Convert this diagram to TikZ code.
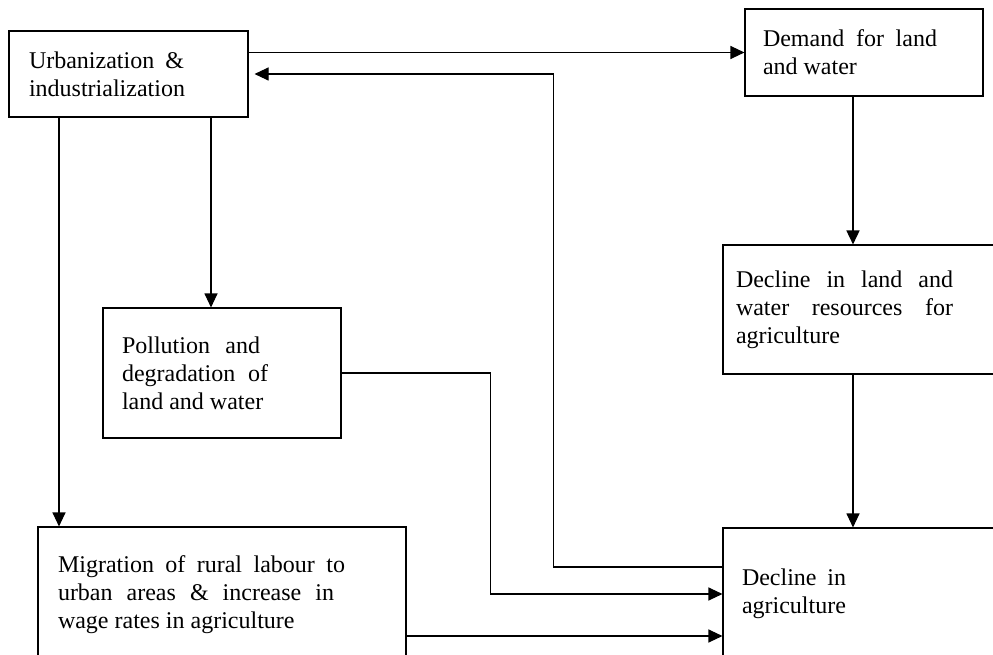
\documentclass[tikz,border=0pt]{standalone}
\usepackage{fontspec}
\setmainfont{Liberation Serif}
\usepackage{tikz}
\usetikzlibrary{positioning,calc,arrows.meta}

\begin{document}
\begin{tikzpicture}[
		x=1pt, y=-1pt,
		box/.style={
			draw=black, line width=1.1pt,
			inner xsep=20pt, inner ysep=0pt, align=justify,
			font=\fontsize{24}{28}\selectfont
		},
		link/.style={
			draw=black, line width=1.1pt,
			-{Triangle[length=14pt, width=13pt]}
		}
		]
		
		\useasboundingbox (0,0) rectangle (993,655);
		\clip (0,0) rectangle (993,655);
		
		% --- BOXES ---
		\node[box, text width=199pt, minimum height=86pt] (urb) at (128.5,74)
			{\makebox[155pt][s]{Urbanization \&}\\industrialization};
		\node[box, inner xsep=18pt, text width=202pt, minimum height=87pt] (demand) at (864,52.5)
			{\makebox[174pt][s]{Demand for land}\\and water};
		\node[box, inner xsep=13pt, text width=261pt, minimum height=129pt] (declw) at (866.5,309.5)
			{\makebox[217pt][s]{Decline in land and}\\\makebox[217pt][s]{water resources for}\\agriculture};
		\node[box, inner xsep=19pt, text width=200pt, minimum height=130pt] (poll) at (222,373)
			{\makebox[138pt][s]{Pollution and}\\\makebox[146pt][s]{degradation of}\\land and water};
		\node[box, text width=328pt, minimum height=136pt] (migr) at (222,595)
			{\makebox[287pt][s]{Migration of rural labour to}\\\makebox[276pt][s]{urban areas \& increase in}\\wage rates in agriculture};
		\node[box, inner xsep=19pt, text width=249pt, minimum height=132pt] (decag) at (866.5,594)
			{\makebox[104pt][s]{Decline in}\\agriculture};
		
		% --- LINKS ---
		\draw[link] (urb.east |- demand.west) -- (demand.west);
		\draw[link] ([xshift=82.5pt]urb.south) -- ([xshift=82.5pt]urb.south |- poll.north);
		\draw[link] ([xshift=-69.5pt]urb.south) -- ([xshift=-69.5pt]urb.south |- migr.north);
		\draw[link, line width=1.6pt] ([xshift=-11pt]demand.south) -- ([xshift=-11pt]demand.south |- declw.north);
		\draw[link] ([xshift=-13.5pt]declw.south) -- ([xshift=-13.5pt]declw.south |- decag.north);
		\draw[link] (poll.east) -| ([xshift=-232pt]decag.west) -- (decag.west);
		\draw[link] ([yshift=-41pt]migr.east) -- ([yshift=-41pt]migr.east -| decag.west);
		
		% feedback to urbanization
		\draw[link] ([yshift=27pt]decag.west) -| ([xshift=305pt]urb.east) -- ([xshift=6pt]urb.east);
		
\end{tikzpicture}
\end{document}
